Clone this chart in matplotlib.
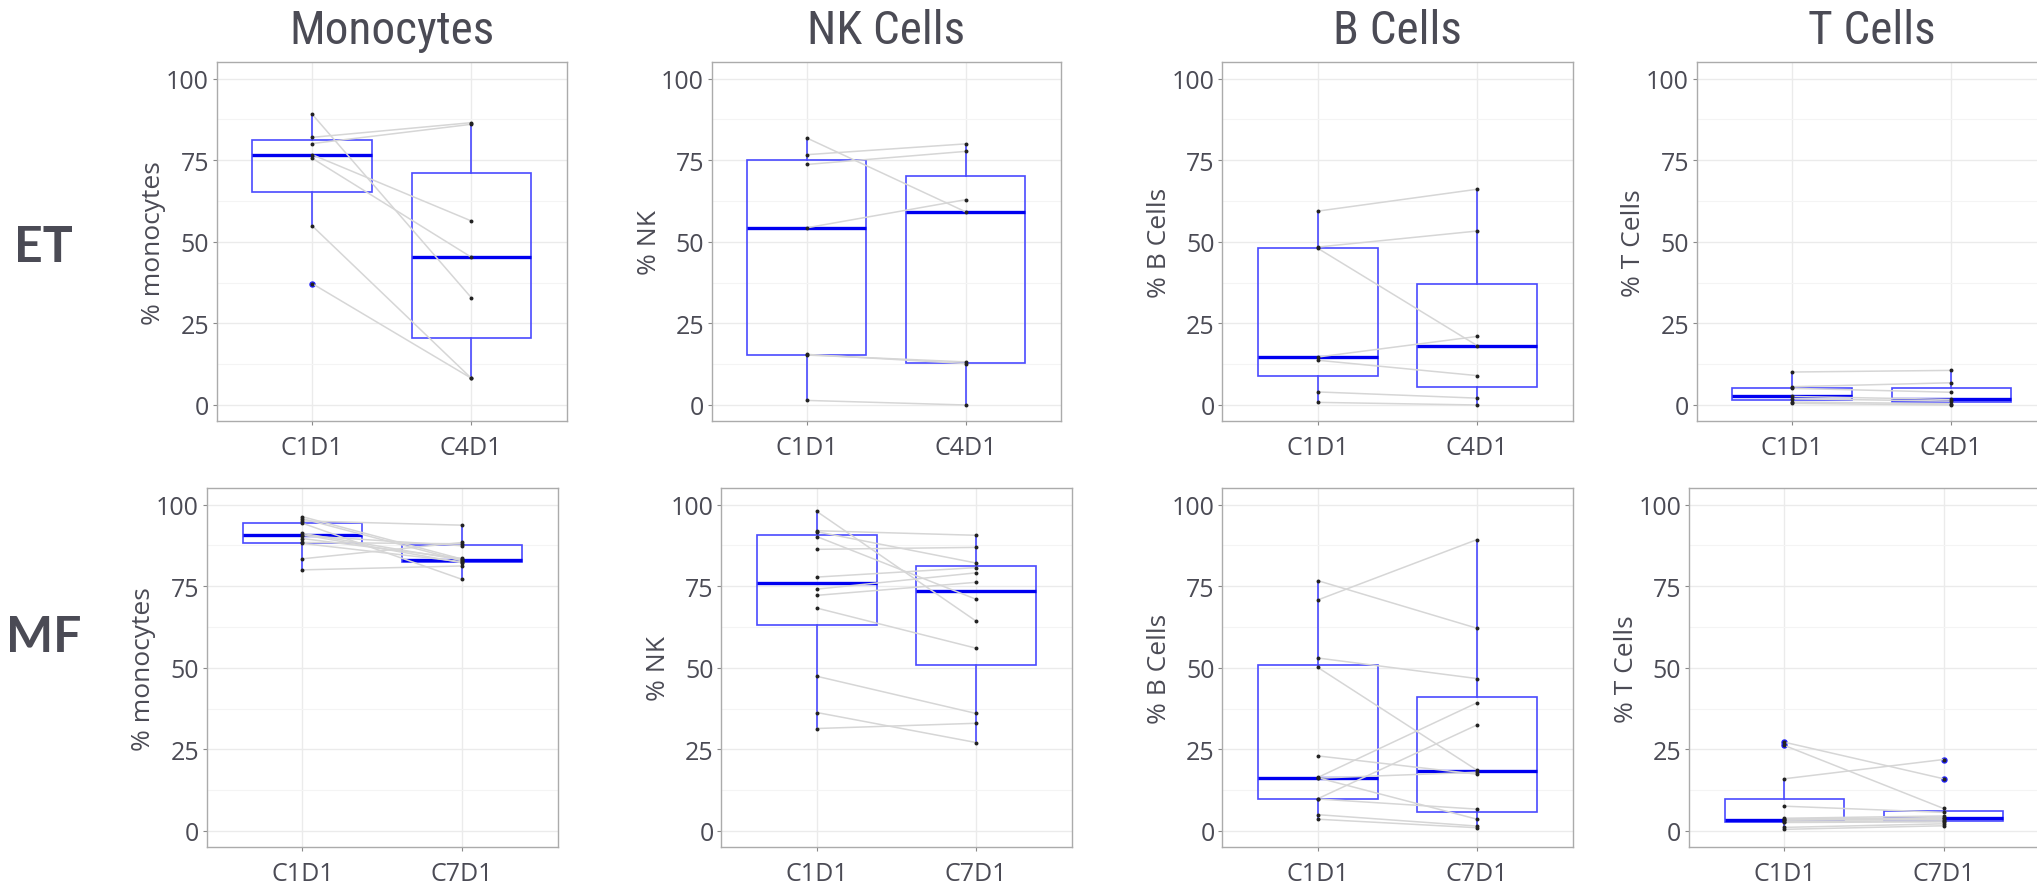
import matplotlib
matplotlib.use("Agg")
import matplotlib.pyplot as plt
import matplotlib.font_manager as fm
from matplotlib.ticker import FixedLocator

# ---------------- data ----------------
cell_types = ["Monocytes", "NK Cells", "B Cells", "T Cells"]
y_labels = ["% monocytes", "% NK", "% B Cells", "% T Cells"]
groups = ["ET", "MF"]
et_times = ["C1D1", "C4D1"]
mf_times = ["C1D1", "C7D1"]

# ET (paired by index, C1D1 -> C4D1)
et_mono_c1 = [89.1, 82.0, 80.1, 76.7, 75.6, 54.9, 37.2]
et_mono_c4 = [32.9, 86.5, 86.0, 56.4, 45.3, 8.2, 8.2]
et_nk_c1 = [81.8, 76.7, 73.7, 54.3, 15.3, 15.5, 1.4]
et_nk_c4 = [59.2, 80.0, 77.7, 62.9, 13.2, 12.7, 0.0]
et_b_c1 = [59.4, 48.4, 48.0, 14.7, 13.7, 4.0, 0.8]
et_b_c4 = [66.1, 53.3, 18.2, 21.0, 9.0, 2.1, 0.0]
et_t_c1 = [10.1, 5.6, 5.1, 2.6, 1.9, 0.9, 0.5]
et_t_c4 = [10.6, 6.8, 3.9, 1.7, 1.2, 0.4, 0.0]

# MF (paired by index, C1D1 -> C7D1)
mf_mono_c1 = [96.3, 95.7, 95.0, 94.3, 91.2, 90.8, 90.5, 89.6, 88.4, 88.1, 83.4, 80.0]
mf_mono_c7 = [83.3, 82.8, 93.7, 77.1, 83.0, 82.2, 87.4, 83.5, 88.0, 82.5, 88.4, 81.2]
mf_nk_c1 = [97.9, 92.0, 91.7, 90.2, 86.3, 77.8, 74.1, 72.2, 68.3, 47.4, 36.3, 31.4]
mf_nk_c7 = [64.3, 90.6, 82.1, 71.0, 86.9, 80.7, 79.1, 76.2, 56.0, 36.0, 27.1, 33.0]
mf_b_c1 = [76.7, 70.8, 53.0, 50.1, 23.0, 16.4, 16.2, 16.3, 9.9, 9.8, 5.0, 3.6]
mf_b_c7 = [62.1, 89.3, 46.7, 18.6, 17.4, 39.3, 18.0, 3.6, 32.5, 6.7, 1.5, 1.0]
mf_t_c1 = [27.2, 26.2, 16.0, 7.6, 3.9, 3.6, 3.4, 3.3, 2.9, 2.6, 1.1, 0.5]
mf_t_c7 = [16.0, 6.9, 21.9, 5.7, 4.6, 4.1, 3.9, 3.5, 3.1, 2.8, 2.2, 1.6]

et_data = [(et_mono_c1, et_mono_c4), (et_nk_c1, et_nk_c4), (et_b_c1, et_b_c4), (et_t_c1, et_t_c4)]
mf_data = [(mf_mono_c1, mf_mono_c7), (mf_nk_c1, mf_nk_c7), (mf_b_c1, mf_b_c7), (mf_t_c1, mf_t_c7)]

# ---------------- style ----------------
TXT = "#4b4b55"
BOX = "#4a4aff"
MED = "#0000f0"
LINE = "#d6d6d6"

installed = {f.name for f in fm.fontManager.ttflist}
base_font = [f for f in ["Open Sans", "Roboto", "DejaVu Sans"] if f in installed] + ["DejaVu Sans"]
plt.rcParams["font.family"] = base_font

# condensed font for column titles, if any
title_fp = None
pref = ["Roboto Condensed", "Open Sans Condensed", "Liberation Sans Narrow", "Noto Sans Condensed"]
for p in pref:
    for f in fm.fontManager.ttflist:
        if f.name == p and f.weight in (400, "normal", "regular") and f.style == "normal":
            title_fp = fm.FontProperties(fname=f.fname)
            break
    if title_fp is not None:
        break
if title_fp is None:
    for f in fm.fontManager.ttflist:
        if f.name == "DejaVu Sans" and f.stretch == "condensed" and f.weight in (400, "normal") and f.style == "normal":
            title_fp = fm.FontProperties(fname=f.fname)
            break
title_size = 34
if title_fp is None:
    title_fp = fm.FontProperties(family="Roboto" if "Roboto" in installed else "DejaVu Sans")
    title_size = 29

row_font = [f for f in ["Lato", "Open Sans", "DejaVu Sans"] if f in installed]

W, H = 2037, 887
fig = plt.figure(figsize=(W / 100, H / 100), dpi=100)

row_boxes = [
    (63.3, 422.3, [(216.7, 350), (711.7, 349), (1222.3, 350.4), (1696.7, 350)]),
    (489.3, 848.3, [(206.7, 351), (721.3, 350.4), (1222.3, 350.4), (1689.0, 350)]),
]
row_label_y = [248, 638]

for r, (gname, data, times) in enumerate([("ET", et_data, et_times), ("MF", mf_data, mf_times)]):
    top, bot, cols = row_boxes[r]
    for c in range(4):
        left, wpx = cols[c]
        ax = fig.add_axes([left / W, 1 - bot / H, wpx / W, (bot - top) / H])
        a, b = data[c]
        # boxes
        ax.boxplot([a, b], positions=[1, 2], widths=0.75, whis=1.5, showcaps=False,
                   patch_artist=True,
                   boxprops=dict(facecolor="none", edgecolor=BOX, linewidth=1.2),
                   whiskerprops=dict(color=BOX, linewidth=1.2),
                   medianprops=dict(color=MED, linewidth=2.4),
                   flierprops=dict(marker="o", markerfacecolor="#2020ff", markeredgecolor="#2020ff",
                                   markersize=3.6, linestyle="none"),
                   zorder=2)
        # paired lines
        for va, vb in zip(a, b):
            ax.plot([1, 2], [va, vb], color=LINE, linewidth=1.1, zorder=3)
        # points
        ax.scatter([1] * len(a), a, s=8, color="#222222", zorder=4, linewidths=0)
        ax.scatter([2] * len(b), b, s=8, color="#222222", zorder=4, linewidths=0)

        ax.set_xlim(0.4, 2.6)
        ax.set_ylim(-5, 105)
        ax.set_xticks([1, 2])
        ax.set_xticklabels(times)
        ax.set_yticks([0, 25, 50, 75, 100])
        ax.yaxis.set_minor_locator(FixedLocator([12.5, 37.5, 62.5, 87.5]))
        ax.grid(True, which="major", color="#ebebeb", linewidth=1.0, zorder=0)
        ax.grid(True, which="minor", axis="y", color="#f4f4f4", linewidth=0.8, zorder=0)
        ax.set_axisbelow(True)
        ax.tick_params(axis="both", which="major", labelsize=18, labelcolor=TXT,
                       length=3, width=0.8, color="#8a8a8a")
        ax.tick_params(axis="y", which="major", pad=2.5)
        ax.tick_params(axis="x", which="major", pad=7.0)
        ax.tick_params(axis="y", which="minor", length=0)
        for s in ax.spines.values():
            s.set_color("#ababab")
            s.set_linewidth(1.0)
        ax.set_ylabel(y_labels[c], fontsize=19, color=TXT)
        ax.yaxis.label.set_va("center")
        ax.yaxis.set_label_coords(-62.7 / wpx, 0.5)
        if r == 0:
            ax.text(0.5, 1 + (63.3 - 31) / (bot - top), cell_types[c], transform=ax.transAxes,
                    ha="center", va="center", fontproperties=title_fp, fontsize=title_size, color=TXT)
    fig.text(43.5 / W, 1 - row_label_y[r] / H, gname, ha="center", va="center",
             fontsize=36, fontweight="bold", color=TXT, family=row_font)

fig.savefig("out.png", dpi=100)
